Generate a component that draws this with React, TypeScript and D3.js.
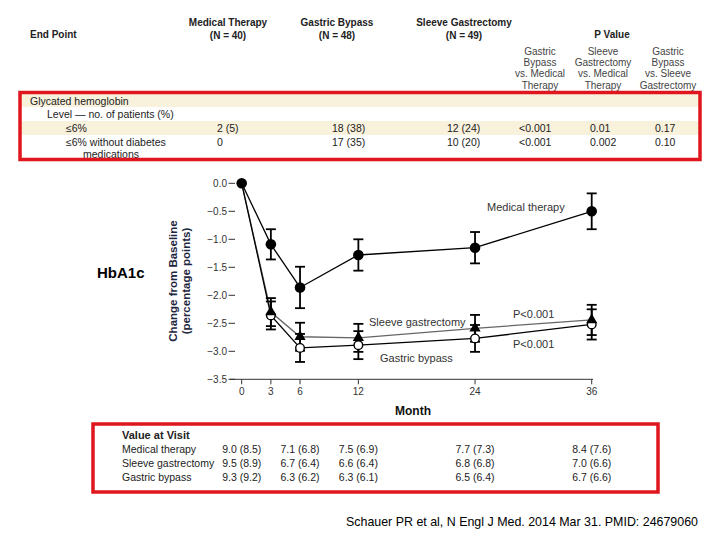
import React from "react";
import * as d3 from "d3";

// ---- Chart data (change from baseline in HbA1c, percentage points) ----
const months = [0, 3, 6, 12, 24, 36];
const medical = [0, -1.09, -1.86, -1.28, -1.15, -0.5];
const medicalErr = [0, 0.27, 0.37, 0.28, 0.28, 0.32];
const sleeve = [0, -2.3, -2.74, -2.76, -2.59, -2.44];
const sleeveErr = [0, 0.25, 0.25, 0.25, 0.24, 0.27];
const bypass = [0, -2.36, -2.94, -2.89, -2.77, -2.52];
const bypassErr = [0, 0.25, 0.25, 0.25, 0.24, 0.27];
const yTicks = [0, -0.5, -1, -1.5, -2, -2.5, -3, -3.5];

// ---- Top table ----
const groupNames = ["Medical Therapy", "Gastric Bypass", "Sleeve Gastrectomy"];
const groupNs = ["(N = 40)", "(N = 48)", "(N = 49)"];
const groupCenters = [228, 337, 464];
const pHeaders = [
  ["Gastric", "Bypass", "vs. Medical", "Therapy"],
  ["Sleeve", "Gastrectomy", "vs. Medical", "Therapy"],
  ["Gastric", "Bypass", "vs. Sleeve", "Gastrectomy"],
];
const pCenters = [540, 603, 668];
const valueCols = [217, 332, 447, 519, 590, 655];
const rowLe6 = ["2 (5)", "18 (38)", "12 (24)", "<0.001", "0.01", "0.17"];
const rowLe6NoMed = ["0", "17 (35)", "10 (20)", "<0.001", "0.002", "0.10"];

// ---- Value at visit table ----
const visitMonths = [0, 6, 12, 24, 36];
const visitLabels = ["Medical therapy", "Sleeve gastrectomy", "Gastric bypass"];
const visitMedical = ["9.0 (8.5)", "7.1 (6.8)", "7.5 (6.9)", "7.7 (7.3)", "8.4 (7.6)"];
const visitSleeve = ["9.5 (8.9)", "6.7 (6.4)", "6.6 (6.4)", "6.8 (6.8)", "7.0 (6.6)"];
const visitBypass = ["9.3 (9.2)", "6.3 (6.2)", "6.3 (6.1)", "6.5 (6.4)", "6.7 (6.6)"];

const FONT = "'Liberation Sans', Arial, sans-serif";
const RED = "#e0161e";

export default function App() {
  const x = d3.scaleLinear().domain([0, 36]).range([241.7, 591.7]);
  const y = d3.scaleLinear().domain([0, -3.5]).range([183.3, 379.3]);
  const line = d3
    .line<number>()
    .x((_, i) => x(months[i]))
    .y((d) => y(d));

  const errBars = (vals: number[], errs: number[], key: string) =>
    vals.map((v, i) =>
      errs[i] > 0 ? (
        <g key={key + i} stroke="#000" strokeWidth={1.8}>
          <line x1={x(months[i])} x2={x(months[i])} y1={y(v + errs[i])} y2={y(v - errs[i])} />
          <line x1={x(months[i]) - 5} x2={x(months[i]) + 5} y1={y(v + errs[i])} y2={y(v + errs[i])} />
          <line x1={x(months[i]) - 5} x2={x(months[i]) + 5} y1={y(v - errs[i])} y2={y(v - errs[i])} />
        </g>
      ) : null
    );

  const tri = d3.symbol().type(d3.symbolTriangle).size(55)();
  const visitRows = [visitMedical, visitSleeve, visitBypass];

  return (
    <svg
      width={720}
      height={540}
      style={{ position: "absolute", left: 0, top: 0, background: "#fff" }}
      fontFamily={FONT}
    >
      <rect x={0} y={0} width={720} height={540} fill="#fff" />

      {/* ---------- Top table header ---------- */}
      <g fill="#222" fontSize={10}>
        <text x={30} y={38} fontWeight="bold">End Point</text>
        {groupNames.map((g, i) => (
          <g key={g} fontWeight="bold" textAnchor="middle">
            <text x={groupCenters[i]} y={26}>{g}</text>
            <text x={groupCenters[i]} y={39}>{groupNs[i]}</text>
          </g>
        ))}
        <text x={612} y={38} fontWeight="bold" textAnchor="middle">P Value</text>
        {pHeaders.map((lines, i) => (
          <g key={i} textAnchor="middle" fill="#444">
            {lines.map((l, j) => (
              <text key={j} x={pCenters[i]} y={55 + j * 11.2}>{l}</text>
            ))}
          </g>
        ))}
      </g>

      {/* ---------- Top table body ---------- */}
      <rect x={21} y={93} width={678} height={14} fill="#f8f1dc" />
      <rect x={21} y={121} width={678} height={14} fill="#f8f1dc" />
      <g fill="#222" fontSize={10.5}>
        <text x={30} y={104.5}>Glycated hemoglobin</text>
        <text x={47} y={118}>Level — no. of patients (%)</text>
        <text x={66} y={132}>≤6%</text>
        <text x={66} y={145.5}>≤6% without diabetes</text>
        <text x={83} y={157.5}>medications</text>
        {rowLe6.map((v, i) => (
          <text key={"a" + i} x={valueCols[i]} y={132}>{v}</text>
        ))}
        {rowLe6NoMed.map((v, i) => (
          <text key={"b" + i} x={valueCols[i]} y={145.5}>{v}</text>
        ))}
      </g>
      <rect x={20} y={92.5} width={680} height={67} fill="none" stroke={RED} strokeWidth={3.5} />

      {/* ---------- Chart ---------- */}
      <text x={97} y={278} fontSize={15} fontWeight="bold" fill="#000">HbA1c</text>

      <g fontWeight="bold" fontSize={11.5} fill="#1c2640" textAnchor="middle">
        <text transform="translate(177,281) rotate(-90)">Change from Baseline</text>
        <text transform="translate(190,281) rotate(-90)">(percentage points)</text>
      </g>

      {/* y ticks */}
      <g fontSize={10} fill="#333">
        {yTicks.map((t) => (
          <g key={t}>
            <text x={227} y={y(t) + 3.5} textAnchor="end">{d3.format(".1f")(t)}</text>
            <line x1={228.5} x2={235} y1={y(t)} y2={y(t)} stroke="#333" strokeWidth={1} />
          </g>
        ))}
      </g>

      {/* x axis */}
      <line x1={230} x2={593} y1={y(-3.5)} y2={y(-3.5)} stroke="#333" strokeWidth={1} />
      <g fontSize={10} fill="#333" textAnchor="middle">
        {months.map((m) => (
          <g key={m}>
            <line x1={x(m)} x2={x(m)} y1={y(-3.5)} y2={y(-3.5) + 5} stroke="#333" />
            <text x={x(m)} y={395}>{m}</text>
          </g>
        ))}
      </g>
      <text x={413} y={415} fontSize={12} fontWeight="bold" textAnchor="middle" fill="#111">Month</text>

      {/* lines */}
      <path d={line(medical) || ""} fill="none" stroke="#000" strokeWidth={1.3} />
      <path d={line(sleeve) || ""} fill="none" stroke="#666" strokeWidth={1.3} />
      <path d={line(bypass) || ""} fill="none" stroke="#000" strokeWidth={1.3} />

      {/* error bars */}
      {errBars(medical, medicalErr, "m")}
      {errBars(sleeve, sleeveErr, "s")}
      {errBars(bypass, bypassErr, "b")}

      {/* markers */}
      {bypass.map((v, i) =>
        i > 0 ? (
          <circle key={"bc" + i} cx={x(months[i])} cy={y(v)} r={4.3} fill="#fff" stroke="#000" strokeWidth={1.4} />
        ) : null
      )}
      {sleeve.map((v, i) =>
        i > 0 ? (
          <path key={"st" + i} d={tri || ""} transform={`translate(${x(months[i])},${y(v)})`} fill="#000" />
        ) : null
      )}
      {medical.map((v, i) => (
        <circle key={"mc" + i} cx={x(months[i])} cy={y(v)} r={5.3} fill="#000" />
      ))}

      {/* series labels */}
      <g fontSize={11} fill="#333">
        <text x={487} y={211}>Medical therapy</text>
        <text x={369} y={325.5}>Sleeve gastrectomy</text>
        <text x={380} y={362}>Gastric bypass</text>
        <text x={513} y={318}>P&lt;0.001</text>
        <text x={513} y={348}>P&lt;0.001</text>
      </g>

      {/* ---------- Value at visit ---------- */}
      <g fill="#222" fontSize={10.5}>
        <text x={122} y={439} fontWeight="bold" fontSize={11}>Value at Visit</text>
        {visitLabels.map((l, r) => (
          <g key={l}>
            <text x={122} y={453 + r * 14}>{l}</text>
            {visitRows[r].map((v, i) => (
              <text key={i} x={x(visitMonths[i])} y={453 + r * 14} textAnchor="middle">{v}</text>
            ))}
          </g>
        ))}
      </g>
      <rect x={93} y={424} width={565} height={68} fill="none" stroke={RED} strokeWidth={3.5} />

      {/* citation */}
      <text x={346} y={526} fontSize={13} fill="#000" textLength={352} lengthAdjust="spacingAndGlyphs">
        Schauer PR et al, N Engl J Med. 2014 Mar 31.  PMID: 24679060
      </text>
    </svg>
  );
}
